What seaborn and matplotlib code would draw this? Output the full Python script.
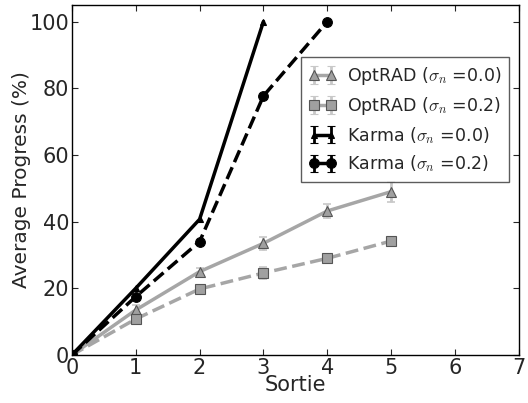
import numpy as np
import pandas as pd
import matplotlib
matplotlib.use("Agg")
import matplotlib.pyplot as plt
import seaborn as sns

sorties = [0, 1, 2, 3, 4, 5]
optrad_00 = [0, 13.5, 25.0, 33.5, 43.2, 49.0]
optrad_00_err = [0, 1.5, 1.0, 2.0, 2.0, 3.0]
optrad_02 = [0, 10.8, 19.8, 24.6, 29.0, 34.2]
optrad_02_err = [0, 1.0, 1.2, 1.8, 1.0, 0.8]
karma_x_00 = [0, 1, 2, 3]
karma_00 = [0, 20.0, 40.7, 100.0]
karma_x_02 = [0, 1, 2, 3, 4]
karma_02 = [0, 17.5, 34.0, 77.7, 100.0]

labels = [r"OptRAD ($\sigma_n$ =0.0)", r"OptRAD ($\sigma_n$ =0.2)",
          r"Karma ($\sigma_n$ =0.0)", r"Karma ($\sigma_n$ =0.2)"]

sns.set_style("ticks")
plt.rcParams['font.family'] = ['DejaVu Sans']
plt.rcParams['mathtext.fontset'] = 'cm'

fig = plt.figure(figsize=(5.28, 4.03), dpi=100)
ax = fig.add_axes([0.136, 0.119, 0.847, 0.869])

grey = '#a6a6a6'
mfc = '#a0a0a0'
mec = '#555555'

specs = [
    (sorties, optrad_00, optrad_00_err, dict(color=grey, linestyle='-', lw=2.5, marker='^', ms=7, mfc=mfc, mec=mec, mew=0.8)),
    (sorties, optrad_02, optrad_02_err, dict(color=grey, linestyle='--', lw=2.5, marker='s', ms=6.5, mfc=mfc, mec=mec, mew=0.8)),
    (karma_x_00, karma_00, [0]*len(karma_00), dict(color='black', linestyle='-', lw=2.5, marker='^', ms=4, mfc='black', mec='black', mew=0.8)),
    (karma_x_02, karma_02, [0]*len(karma_02), dict(color='black', linestyle='--', lw=2.5, marker='o', ms=7, mfc='black', mec='black', mew=0.8)),
]

for (x, y, e, st), lab in zip(specs, labels):
    df = pd.DataFrame({'x': x, 'y': y})
    sns.lineplot(data=df, x='x', y='y', ax=ax, color=st['color'], linestyle=st['linestyle'],
                 lw=st['lw'], marker=st['marker'], markersize=st['ms'],
                 markerfacecolor=st['mfc'], markeredgecolor=st['mec'], markeredgewidth=st['mew'],
                 legend=False, zorder=3)
    if any(v > 0 for v in e):
        ax.errorbar(x, y, yerr=e, fmt='none', ecolor='#c8c8c8', elinewidth=2, capsize=3, capthick=1.2, zorder=2)
    # legend proxy
    ecol = '#c8c8c8' if st['color'] == grey else 'black'
    ax.errorbar([np.nan], [np.nan], yerr=[1], fmt='', color=st['color'], linestyle=st['linestyle'],
                lw=st['lw'], marker=st['marker'], ms=st['ms'], mfc=st['mfc'], mec=st['mec'],
                mew=st['mew'], ecolor=ecol, elinewidth=2, capsize=3, capthick=1.5, label=lab)

ax.set_xlim(0, 7)
ax.set_ylim(0, 105)
ax.set_xticks(range(0, 8))
ax.set_yticks(range(0, 101, 20))
ax.set_xlabel('Sortie', fontsize=15, labelpad=-2)
ax.set_ylabel('Average Progress (%)', fontsize=14.5, labelpad=-1)
ax.tick_params(axis='both', labelsize=15, direction='in', top=True, right=True, length=4, width=0.8, pad=2)
for s in ax.spines.values():
    s.set_linewidth(1.0)
    s.set_color('black')

leg = ax.legend(loc='upper right', bbox_to_anchor=(0.997, 0.875), fontsize=12.5, frameon=True,
                fancybox=False, numpoints=2, handlelength=1.6, borderpad=0.45, labelspacing=0.45,
                handletextpad=0.6)
leg.get_frame().set_edgecolor('#333333')
leg.get_frame().set_linewidth(1.0)

fig.savefig('out.png', dpi=100)
